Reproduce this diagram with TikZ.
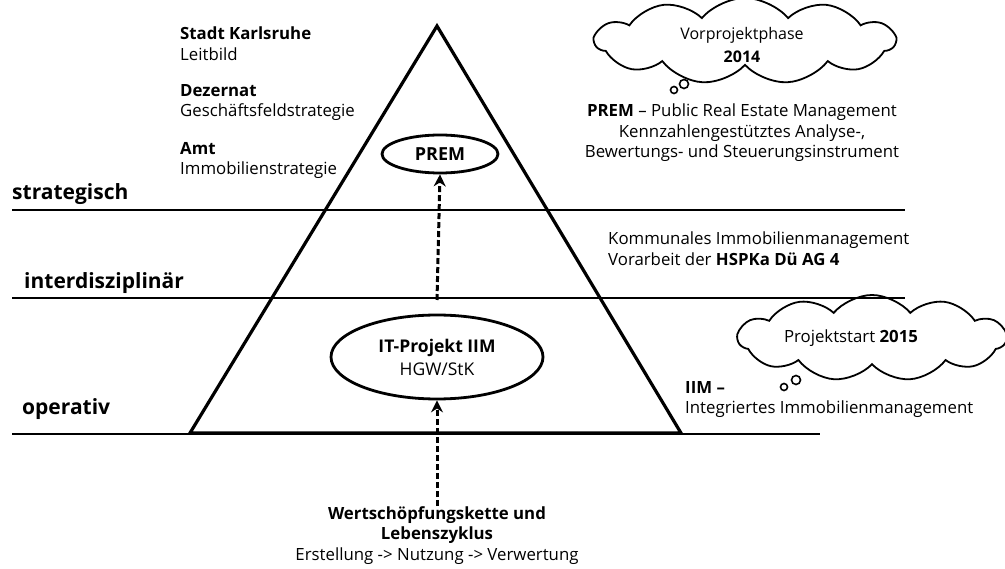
\documentclass[tikz,border=0pt]{standalone}
\usepackage{fontspec}
\setmainfont{Open Sans}
\usetikzlibrary{shapes.geometric,shapes.symbols,arrows.meta}
\begin{document}
\begin{tikzpicture}[x=1pt,y=-1pt,
  txt/.style={inner sep=0pt,font=\fontsize{16.8}{20.5}\selectfont},
  lvl/.style={inner sep=0pt,anchor=base west,font=\fontsize{21}{22}\selectfont\bfseries},
  sep/.style={line width=2.2pt},
  oval/.style={ellipse,draw,line width=2.8pt,inner sep=0pt},
  flow/.style={line width=3pt,dash pattern=on 6pt off 3pt,-{Stealth[length=12pt,width=12pt]}},
  bubble/.style={cloud,cloud puffs=11,cloud puff arc=100,cloud ignores aspect,draw,line width=1.8pt,inner sep=0pt},
  puff/.style={circle,draw,line width=1.6pt,inner sep=0pt}]
\useasboundingbox (0,0) rectangle (1005,569);
% level separators
\coordinate (s1) at (12,210); \coordinate (s2) at (905,210);
\coordinate (i1) at (12,298); \coordinate (i2) at (905,298);
\coordinate (o1) at (12,434); \coordinate (o2) at (820,434);
\draw[sep] (s1) -- (s2);
\draw[sep] (i1) -- (i2);
\draw[sep] (o1) -- (o2);
% pyramid
\coordinate (apex) at (437,26);
\coordinate (bl) at (190,433);
\coordinate (br) at (681,433);
\draw[line width=3.2pt,line join=miter] (apex) -- (br) -- (bl) -- cycle;
% level names
\node[lvl] (strat) at (12,200) {strategisch};
\node[lvl] (inter) at (24,289) {interdisziplinär};
\node[lvl] (oper) at (22,415) {operativ};
% hierarchy on the left
\node[txt,anchor=north west,align=left] (ka) at (180,27) {\textbf{Stadt Karlsruhe}\\Leitbild};
\node[txt,anchor=north west,align=left] (dez) at (180,84) {\textbf{Dezernat}\\Geschäftsfeldstrategie};
\node[txt,anchor=north west,align=left] (amt) at (180,142) {\textbf{Amt}\\Immobilienstrategie};
% ovals
\node[oval,minimum width=116pt,minimum height=38pt,font=\fontsize{18}{20}\selectfont\bfseries] (prem) at (440,154) {PREM};
\node[oval,minimum width=212pt,minimum height=84pt,align=center,font=\fontsize{17.5}{23}\selectfont] (it) at (437,357) {\textbf{IT-Projekt IIM}\\HGW/StK};
% value chain
\node[txt,align=center,anchor=north] (wert) at (437,506) {\textbf{Wertschöpfungskette und}\\\textbf{Lebenszyklus}\\Erstellung -> Nutzung -> Verwertung};
\coordinate (a1) at (437,300);
\draw[flow] (a1) -- (prem.south);
\draw[flow] (wert.north) -- (it.south);
% clouds
\node[bubble,minimum width=300pt,minimum height=86pt] (c1) at (745,41) {};
\node[txt,align=center,font=\fontsize{16}{23}\selectfont] (c1t) at (742,45) {Vorprojektphase\\\textbf{2014}};
\node[puff,minimum size=9pt] (p1) at (684,84) {};
\node[puff,minimum size=7pt] (p2) at (674,90) {};
\node[bubble,minimum width=268pt,minimum height=86pt] (c2) at (872,338) {};
\node[txt] (c2t) at (851,338) {Projektstart \textbf{2015}};
\node[puff,minimum size=9pt] (p3) at (796,380) {};
\node[puff,minimum size=7pt] (p4) at (784,387) {};
% right-hand texts
\node[txt,align=center,anchor=north] (premt) at (742,104) {\textbf{PREM} – Public Real Estate Management\\Kennzahlengestütztes Analyse-,\\Bewertungs- und Steuerungsinstrument};
\node[txt,align=left,anchor=north west] (kom) at (608,232) {Kommunales Immobilienmanagement\\Vorarbeit der \textbf{HSPKa Dü AG 4}};
\node[txt,align=left,anchor=north west] (iim) at (685,381) {\textbf{IIM –}\\Integriertes Immobilienmanagement};
\end{tikzpicture}
\end{document}
